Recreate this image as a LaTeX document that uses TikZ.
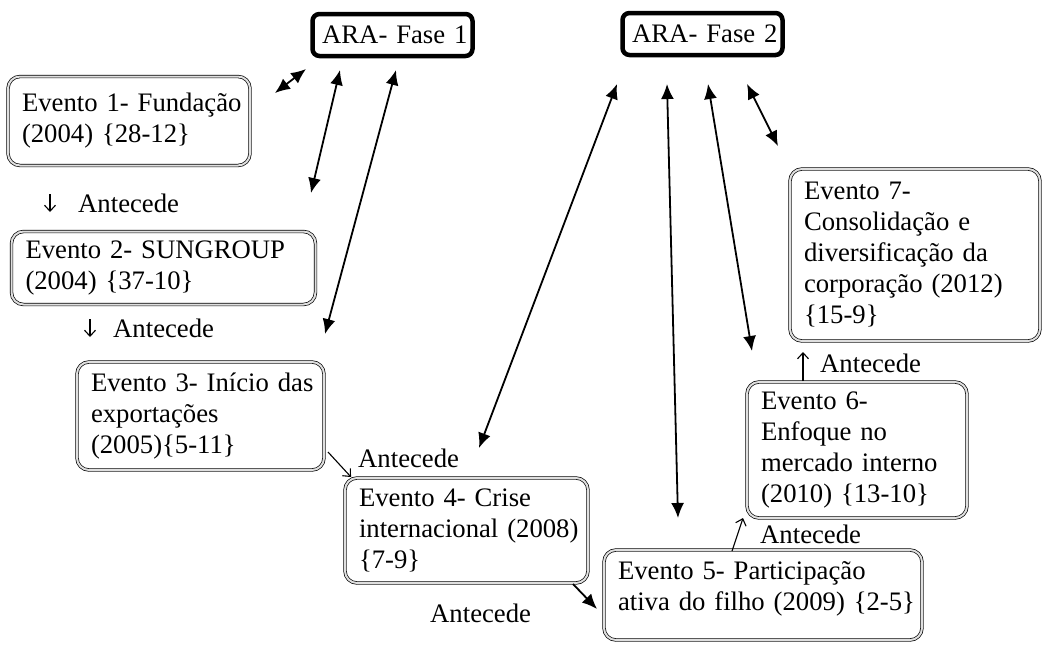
\documentclass[tikz,border=0pt]{standalone}
\usepackage{fontspec}
\setmainfont{Liberation Serif}
\usetikzlibrary{arrows.meta}
\begin{document}
\begin{tikzpicture}[x=1pt,y=-1pt,
  font=\fontsize{26.7}{31}\selectfont,
  arabox/.style={draw, line width=4.5pt, rounded corners=7pt, minimum height=42pt,
    text width=150pt, align=right, inner xsep=5pt, inner ysep=0pt},
  evbox/.style={draw, line width=0.7pt, double=gray!25, double distance=2pt,
    rounded corners=12pt, inner xsep=14pt, inner ysep=2pt, align=left},
  link/.style={line width=1.8pt, {Latex[length=15pt,width=13pt]}-{Latex[length=15pt,width=13pt]}},
  onelink/.style={line width=1.8pt, -{Latex[length=15pt,width=13pt]}},
  antarrow/.style={line width=1.1pt, -{Straight Barb[length=6pt,width=11pt]}},
  antlabel/.style={anchor=base west, inner sep=0pt}
]
\useasboundingbox (0,0) rectangle (1044,646);

% phase boxes
\node[arabox] (f1) at (392.5,35) {ARA- Fase 1};
\node[arabox] (f2) at (702.5,34) {ARA- Fase 2};

% event boxes
\node[evbox, text width=214pt, minimum height=89pt] (e1) at (129,121)
  {\mbox{Evento 1- Fundação}\\\mbox{(2004) \{28-12\}}};
\node[evbox, text width=276pt, minimum height=73pt] (e2) at (163.5,268)
  {\mbox{Evento 2- SUNGROUP}\\\mbox{(2004) \{37-10\}}};
\node[evbox, text width=219pt, minimum height=108pt] (e3) at (200.5,416)
  {\mbox{Evento 3- Início das}\\\mbox{exportações}\\\mbox{(2005)\{5-11\}}};
\node[evbox, text width=215pt, minimum height=105pt] (e4) at (466.5,530.5)
  {\mbox{Evento 4- Crise}\\\mbox{internacional (2008)}\\\mbox{\{7-9\}}};
\node[evbox, text width=290pt, minimum height=90pt] (e5) at (763,595)
  {\mbox{Evento 5- Participação}\\\mbox{ativa do filho (2009) \{2-5\}}\\[-12pt]\mbox{}};
\node[evbox, text width=192pt, minimum height=136pt] (e6) at (857,450)
  {\mbox{Evento 6-}\\\mbox{Enfoque no}\\\mbox{mercado interno}\\\mbox{(2010) \{13-10\}}};
\node[evbox, text width=222pt, minimum height=172pt] (e7) at (915,255)
  {\mbox{Evento 7-}\\\mbox{Consolidação e}\\\mbox{diversificação da}\\\mbox{corporação (2012)}\\\mbox{\{15-9\}}};

% Antecede labels
\node[antlabel] (a1) at (78,212) {Antecede};
\node[antlabel] (a2) at (113,337) {Antecede};
\node[antlabel] (a3) at (358,467) {Antecede};
\node[antlabel] (a4) at (430,622) {Antecede};
\node[antlabel] (a5) at (760,543) {Antecede};
\node[antlabel] (a6) at (820,372) {Antecede};

% endpoints of connectors
\coordinate (p1s) at (306,69);  \coordinate (p1e) at (275,93);
\coordinate (p2s) at (340,70);  \coordinate (p2e) at (311,193);
\coordinate (p3s) at (396,70);  \coordinate (p3e) at (325,334);
\coordinate (q1s) at (617,84);  \coordinate (q1e) at (479,448);
\coordinate (q2s) at (667,84);  \coordinate (q2e) at (678,518);
\coordinate (q3s) at (708,84);  \coordinate (q3e) at (752,351);
\coordinate (q4s) at (747,84);  \coordinate (q4e) at (778,146);

\coordinate (t1s) at (50,194);  \coordinate (t1e) at (50,212);
\coordinate (t2s) at (90,319);  \coordinate (t2e) at (90,337);
\coordinate (t3s) at (328,452); \coordinate (t3e) at (351,477);
\coordinate (t4s) at (573,584); \coordinate (t4e) at (597,609);
\coordinate (t5s) at (732,551); \coordinate (t5e) at (743,518);
\coordinate (t6s) at (803,381); \coordinate (t6e) at (803,352);

% phase links
\draw[link] (p1s) -- (p1e);
\draw[link] (p2s) -- (p2e);
\draw[link] (p3s) -- (p3e);
\draw[link] (q1s) -- (q1e);
\draw[link] (q2s) -- (q2e);
\draw[link] (q3s) -- (q3e);
\draw[link] (q4s) -- (q4e);

% precedence arrows
\draw[antarrow] (t1s) -- (t1e);
\draw[antarrow] (t2s) -- (t2e);
\draw[antarrow] (t3s) -- (t3e);
\draw[onelink] (t4s) -- (t4e);
\draw[antarrow] (t5s) -- (t5e);
\draw[antarrow] (t6s) -- (t6e);
\end{tikzpicture}
\end{document}
